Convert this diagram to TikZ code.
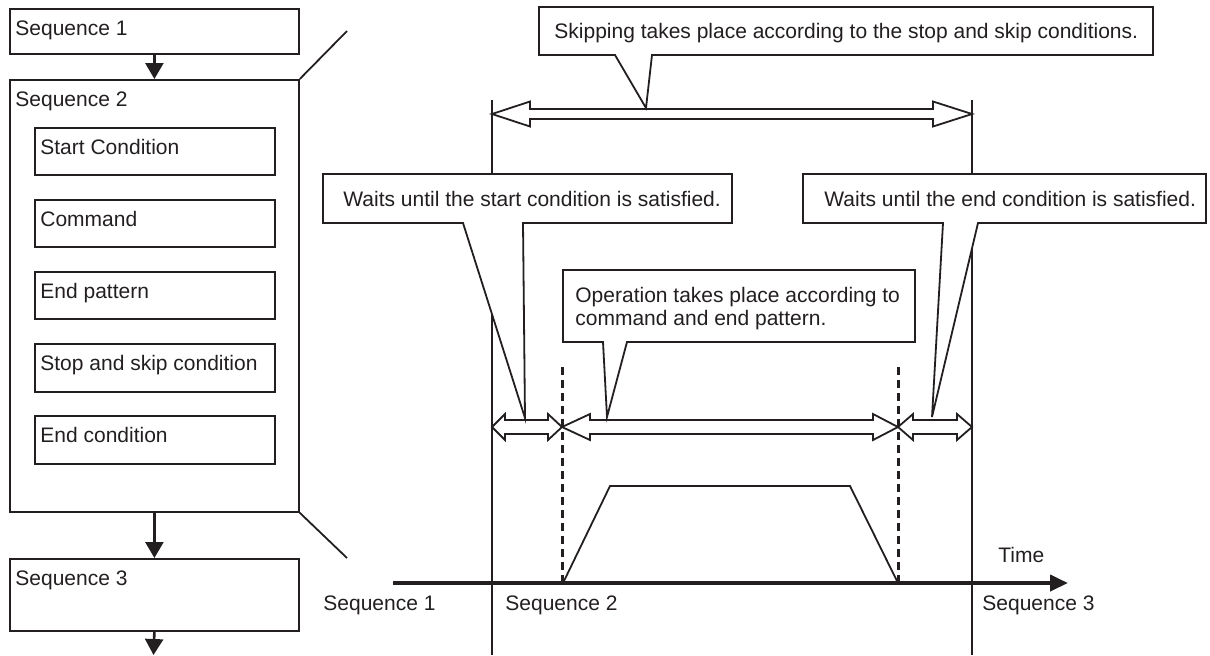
\documentclass[tikz,border=0pt]{standalone}
\usepackage{fontspec}
\setmainfont{Liberation Sans}
\usetikzlibrary{arrows.meta,calc}
\definecolor{ink}{RGB}{35,31,32}
\newcommand\dblarrowpath[7]{%
  \draw[dblarr] (#1,#3) -- ({#1+#4},{#3-#6}) -- ({#1+#4},{#3-#7}) -- ({#2-#5},{#3-#7}) -- ({#2-#5},{#3-#6}) -- (#2,#3)
    -- ({#2-#5},{#3+#6}) -- ({#2-#5},{#3+#7}) -- ({#1+#4},{#3+#7}) -- ({#1+#4},{#3+#6}) -- cycle;}
\begin{document}
\begin{tikzpicture}[x=0.5pt,y=-0.5pt,line join=miter,
  every node/.style={font=\fontsize{10.5}{11.6}\selectfont, text=ink},
  box/.style={draw=ink, line width=0.9pt, rectangle, anchor=north west, inner sep=0pt},
  tl/.style={label={[anchor=base west,inner sep=0pt,xshift=3pt,yshift=-13.8pt]north west:#1}},
  flow/.style={draw=ink, line width=1.3pt, -{Triangle[length=8pt,width=9pt]}},
  thin/.style={draw=ink, line width=0.9pt},
  dashedline/.style={draw=ink, line width=1.5pt, dash pattern=on 4pt off 2.5pt},
  callout/.style={draw=ink, fill=white, line width=0.9pt},
  txt/.style={anchor=base west, inner sep=0pt},
  dblarr/.style={draw=ink, fill=white, line width=0.9pt},
]
\useasboundingbox (0,0) rectangle (1210,655);

% ---------- left flow ----------
\node[box, minimum width=144.5pt, minimum height=22.5pt, tl={Sequence 1}] (s1) at (9,8) {};
\node[box, minimum width=144.5pt, minimum height=216pt, tl={Sequence 2}] (s2) at (9,79) {};
\node[box, minimum width=120pt, minimum height=23.5pt, tl={Start Condition}] (c1) at (34,127) {};
\node[box, minimum width=120pt, minimum height=23.5pt, tl={Command}] (c2) at (34,199) {};
\node[box, minimum width=120pt, minimum height=23.5pt, tl={End pattern}] (c3) at (34,271) {};
\node[box, minimum width=120pt, minimum height=24pt, tl={Stop and skip condition}] (c4) at (34,343) {};
\node[box, minimum width=120pt, minimum height=24pt, tl={End condition}] (c5) at (34,415) {};
\node[box, minimum width=144.5pt, minimum height=36pt, tl={Sequence 3}] (s3) at (9,558) {};
\coordinate (flowend) at (153.5,655);
\draw[flow] (s1.south) -- (s2.north);
\draw[flow] (s2.south) -- (s3.north);
\draw[flow] (s3.south) -- (flowend);

\coordinate (d1) at (347,31);
\coordinate (d2) at (347,558);
\draw[thin] (s2.north east) -- (d1);
\draw[thin] (s2.south east) -- (d2);

% ---------- timing chart ----------
\coordinate (vLt) at (492,100); \coordinate (vLb) at (492,655);
\coordinate (vRt) at (972,100); \coordinate (vRb) at (972,655);
\draw[thin] (vLt) -- (vLb);
\draw[thin] (vRt) -- (vRb);

\coordinate (dAt) at (562,367); \coordinate (dAb) at (562,583);
\coordinate (dBt) at (898,367); \coordinate (dBb) at (898,583);
\draw[dashedline] (dAt) -- (dAb);
\draw[dashedline] (dBt) -- (dBb);

\coordinate (t1) at (563,583); \coordinate (t2) at (610,486);
\coordinate (t3) at (850,486); \coordinate (t4) at (898,583);
\draw[thin] (t1) -- (t2) -- (t3) -- (t4);

\coordinate (ax0) at (393,583); \coordinate (ax1) at (1068,583);
\draw[draw=ink, line width=2pt, -{Triangle[length=9pt,width=8pt]}] (ax0) -- (ax1);

\node[txt] (time) at (998,562) {Time};
\node[txt] (q1) at (323,610) {Sequence 1};
\node[txt] (q2) at (505,610) {Sequence 2};
\node[txt] (q3) at (982,610) {Sequence 3};

% double arrows
\dblarrowpath{492}{972}{114}{38}{39}{12.5}{5}
\dblarrowpath{492}{562}{427}{13}{14}{13}{7}
\dblarrowpath{562}{898}{427}{28}{25}{13}{7}
\dblarrowpath{898}{972}{427}{15}{15}{13}{7}

% callouts
\draw[callout] (539,7) -- (1153,7) -- (1153,55) -- (652,55) -- (646,108) -- (615,55) -- (539,55) -- cycle;
\node[txt] (skip) at (554,38) {Skipping takes place according to the stop and skip conditions.};

\draw[callout] (323,174) -- (732,174) -- (732,223) -- (523,223) -- (525,418) -- (463,223) -- (323,223) -- cycle;
\node[txt] (wstart) at (343,206) {Waits until the start condition is satisfied.};

\draw[callout] (563,270) -- (915,270) -- (915,342) -- (627,342) -- (607,417) -- (603,342) -- (563,342) -- cycle;
\node[anchor=north west, inner sep=0pt, align=left] (oper) at (575,287) {Operation takes place according to\\command and end pattern.};

\draw[callout] (803,174) -- (1206,174) -- (1206,223) -- (978,223) -- (932,417) -- (943,223) -- (803,223) -- cycle;
\node[txt] (wend) at (824,206) {Waits until the end condition is satisfied.};
\end{tikzpicture}
\end{document}
